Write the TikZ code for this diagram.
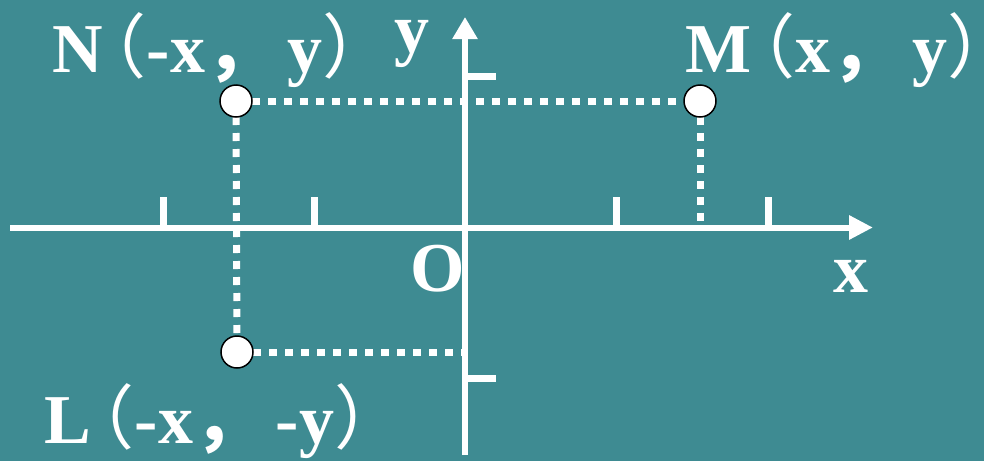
\documentclass[tikz,border=0pt]{standalone}
\usepackage{fontspec}
\setmainfont{Liberation Serif}
\newfontfamily\cjkfont{Noto Sans CJK SC}
\usetikzlibrary{arrows.meta}
\definecolor{bg}{RGB}{62,139,146}
\newcommand{\lp}{\kern-26pt{\cjkfont\mdseries （}}
\newcommand{\cm}{{\cjkfont\bfseries ，}\ \kern-5pt}
\newcommand{\rp}{{\cjkfont\mdseries ）}}
\begin{document}
\begin{tikzpicture}[x=1pt,y=-1pt,
  axis/.style={white,line width=6pt},
  tickmark/.style={white,line width=7pt},
  guide/.style={white,line width=7pt,dash pattern=on 8pt off 8pt},
  pt/.style={circle,draw=black,fill=white,line width=1.5pt,minimum size=32pt,inner sep=0pt},
  lab/.style={text=white,font=\fontsize{70}{70}\selectfont\bfseries,inner sep=0pt,anchor=base west}]
\useasboundingbox (0,0) rectangle (984,461);
\fill[bg] (0,0) rectangle (984,461);
% axes
\coordinate (xs) at (10,227.5);
\coordinate (xe) at (873,227.5);
\coordinate (ys) at (465,455);
\coordinate (ye) at (465,17);
% points
\coordinate (Mc) at (700,101);
\coordinate (Nc) at (236,101);
\coordinate (Lc) at (237,352);
\coordinate (Mx) at (700,224);
\coordinate (Ly) at (462,352);
% guides
\draw[guide] (Nc) -- (Mc);
\draw[guide] (Nc) -- (Lc);
\draw[guide] (Mc) -- (Mx);
\draw[guide] (Lc) -- (Ly);
% ticks
\draw[tickmark] (163,227) -- (163,197);
\draw[tickmark] (314,227) -- (314,197);
\draw[tickmark] (616,227) -- (616,197);
\draw[tickmark] (768,227) -- (768,197);
\draw[tickmark] (465,76) -- (496,76);
\draw[tickmark] (465,378) -- (496,378);
\draw[axis,-{Triangle[length=24pt,width=23pt]}] (xs) -- (xe);
\draw[axis,-{Triangle[length=22pt,width=24pt]}] (ys) -- (ye);
% point markers
\node[pt] (M) at (Mc) {};
\node[pt] (N) at (Nc) {};
\node[pt] (L) at (Lc) {};
% labels
\node[lab] (Nlab) at (52,72) {N\lp-x\cm y\rp};
\node[lab] (Mlab) at (685,72) {M\lp x\cm y\rp};
\node[lab] (Llab) at (44,443) {L\lp-x\cm -y\rp};
\node[lab] (ylab) at (394,52) {y};
\node[lab] (olab) at (410,291) {O};
\node[lab] (xlab) at (833,292) {x};
\end{tikzpicture}
\end{document}
